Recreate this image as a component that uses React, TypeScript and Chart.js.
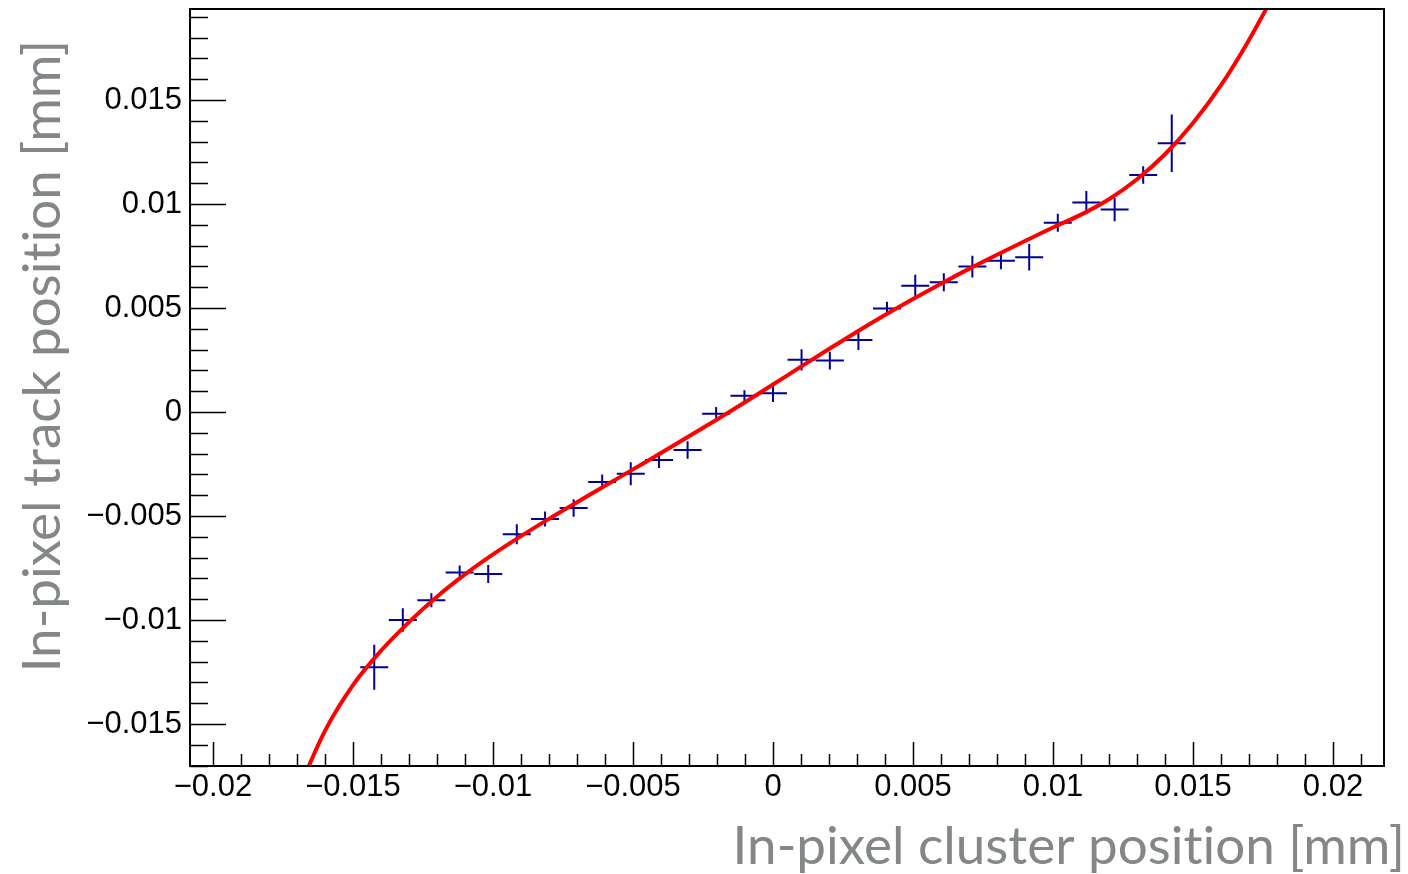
import React, { useEffect, useRef } from "react";
import { Chart, registerables } from "chart.js";

Chart.register(...registerables);

// ---- data ----
const CLUSTER_POS = [
  -0.01424, -0.01322, -0.0122, -0.01119, -0.01017, -0.00915, -0.00814, -0.00712,
  -0.0061, -0.00508, -0.00407, -0.00305, -0.00203, -0.00102, 0.0, 0.00102,
  0.00203, 0.00305, 0.00407, 0.00508, 0.0061, 0.00712, 0.00814, 0.00915,
  0.01017, 0.01119, 0.0122, 0.01322, 0.01424,
];
const TRACK_POS = [
  -0.01227, -0.0100, -0.00905, -0.00772, -0.00779, -0.00588, -0.00514, -0.00462,
  -0.00336, -0.00297, -0.00231, -0.00183, -0.00008, 0.00078, 0.0009, 0.00251,
  0.00247, 0.00346, 0.00498, 0.00607, 0.00624, 0.00699, 0.00727, 0.00744,
  0.0091, 0.01007, 0.00973, 0.01139, 0.01292,
];
const TRACK_ERR = [
  0.00108, 0.00056, 0.00034, 0.00034, 0.00043, 0.00048, 0.00036, 0.00042,
  0.00035, 0.00055, 0.00038, 0.00042, 0.00032, 0.00026, 0.00042, 0.00051,
  0.00043, 0.00048, 0.00032, 0.00053, 0.00043, 0.00052, 0.00041, 0.00064,
  0.00043, 0.00056, 0.00056, 0.00042, 0.00138,
];
const CLUSTER_HALF_WIDTH = 0.0005;

// fitted curve
const FIT_X = [
  -0.017, -0.016, -0.015, -0.014, -0.013, -0.012, -0.011, -0.01, -0.009, -0.008,
  -0.007, -0.006, -0.005, -0.004, -0.003, -0.002, -0.001, 0.0, 0.001, 0.002,
  0.003, 0.004, 0.005, 0.006, 0.007, 0.008, 0.009, 0.01, 0.011, 0.012,
  0.013, 0.014, 0.015, 0.016, 0.017, 0.018,
];
const FIT_Y = [
  -0.01833, -0.01533, -0.01313, -0.01148, -0.0101, -0.00888, -0.00781, -0.00685, -0.00597, -0.00514,
  -0.00434, -0.00355, -0.00276, -0.00197, -0.00117, -0.00036, 0.00047, 0.00132, 0.00218, 0.00303,
  0.00386, 0.00466, 0.00543, 0.00617, 0.00688, 0.00756, 0.00822, 0.00887, 0.00949, 0.01023,
  0.01119, 0.01239, 0.01389, 0.01571, 0.01789, 0.02034,
];

const X_TICKS = [-0.02, -0.015, -0.01, -0.005, 0, 0.005, 0.01, 0.015, 0.02];
const X_TICK_LABELS = ["\u22120.02", "\u22120.015", "\u22120.01", "\u22120.005", "0", "0.005", "0.01", "0.015", "0.02"];
const Y_TICKS = [-0.015, -0.01, -0.005, 0, 0.005, 0.01, 0.015];
const Y_TICK_LABELS = ["\u22120.015", "\u22120.01", "\u22120.005", "0", "0.005", "0.01", "0.015"];
const X_MIN = -0.02082;
const X_MAX = 0.02182;
const Y_MIN = -0.01702;
const Y_MAX = 0.019375;
const MINOR_STEP = 0.001;

const X_TITLE = "In-pixel cluster position [mm]";
const Y_TITLE = "In-pixel track position [mm]";

const POINT_COLOR = "#000092";
const FIT_COLOR = "#ff0000";
const TITLE_COLOR = "#838787";
const TICK_FONT = "'Liberation Sans', Arial, Helvetica, sans-serif";
const TITLE_FONT = "Lato, 'Open Sans', sans-serif";

const rootStylePlugin = {
  id: "rootStyle",
  beforeDatasetsDraw(chart: any) {
    const { ctx, chartArea, scales } = chart;
    const xs = scales.x;
    const ys = scales.y;
    ctx.save();
    ctx.beginPath();
    ctx.rect(chartArea.left, chartArea.top, chartArea.right - chartArea.left, chartArea.bottom - chartArea.top);
    ctx.clip();
    ctx.strokeStyle = POINT_COLOR;
    ctx.lineWidth = 2;
    ctx.lineCap = "butt";
    for (let i = 0; i < CLUSTER_POS.length; i++) {
      const cx = xs.getPixelForValue(CLUSTER_POS[i]);
      const cy = ys.getPixelForValue(TRACK_POS[i]);
      const x1 = xs.getPixelForValue(CLUSTER_POS[i] - CLUSTER_HALF_WIDTH);
      const x2 = xs.getPixelForValue(CLUSTER_POS[i] + CLUSTER_HALF_WIDTH);
      const y1 = ys.getPixelForValue(TRACK_POS[i] - TRACK_ERR[i]);
      const y2 = ys.getPixelForValue(TRACK_POS[i] + TRACK_ERR[i]);
      ctx.beginPath();
      ctx.moveTo(x1, cy);
      ctx.lineTo(x2, cy);
      ctx.moveTo(cx, y1);
      ctx.lineTo(cx, y2);
      ctx.stroke();
    }
    ctx.restore();
  },
  afterDraw(chart: any) {
    const { ctx, chartArea, scales } = chart;
    const xs = scales.x;
    const ys = scales.y;
    const { left, right, top, bottom } = chartArea;
    ctx.save();
    // ticks
    ctx.strokeStyle = "#000";
    ctx.lineWidth = 1.5;
    ctx.beginPath();
    const kx0 = Math.ceil(X_MIN / MINOR_STEP - 1e-6);
    const kx1 = Math.floor(X_MAX / MINOR_STEP + 1e-6);
    for (let k = kx0; k <= kx1; k++) {
      const px = Math.round(xs.getPixelForValue(k * MINOR_STEP)) + 0.5;
      const len = k % 5 === 0 ? 24 : 12;
      ctx.moveTo(px, bottom);
      ctx.lineTo(px, bottom - len);
    }
    const ky0 = Math.ceil(Y_MIN / MINOR_STEP - 1e-6);
    const ky1 = Math.floor(Y_MAX / MINOR_STEP + 1e-6);
    for (let k = ky0; k <= ky1; k++) {
      const py = Math.round(ys.getPixelForValue(k * MINOR_STEP)) + 0.5;
      const len = k % 5 === 0 ? 36 : 18;
      ctx.moveTo(left, py);
      ctx.lineTo(left + len, py);
    }
    ctx.stroke();
    // frame
    ctx.lineWidth = 2;
    ctx.strokeRect(left, top, right - left, bottom - top);
    // axis titles
    ctx.fillStyle = TITLE_COLOR;
    ctx.font = `53px ${TITLE_FONT}`;
    try {
      (ctx as any).textRendering = "optimizeSpeed";
    } catch (e) {
      /* ignore */
    }
    ctx.textBaseline = "alphabetic";
    ctx.textAlign = "right";
    ctx.fillText(X_TITLE, 1405, 864);
    ctx.translate(60, 40);
    ctx.rotate(-Math.PI / 2);
    ctx.textAlign = "right";
    ctx.fillText(Y_TITLE, 0, 0);
    ctx.restore();
  },
};

export default function App() {
  const canvasRef = useRef<HTMLCanvasElement | null>(null);

  useEffect(() => {
    if (!canvasRef.current) return;
    const chart = new Chart(canvasRef.current, {
      type: "scatter",
      data: {
        datasets: [
          {
            label: "data",
            data: CLUSTER_POS.map((x, i) => ({ x, y: TRACK_POS[i] })),
            pointRadius: 0,
            pointHoverRadius: 0,
            showLine: false,
            backgroundColor: POINT_COLOR,
            borderColor: POINT_COLOR,
          },
          {
            label: "fit",
            data: FIT_X.map((x, i) => ({ x, y: FIT_Y[i] })),
            showLine: true,
            borderColor: FIT_COLOR,
            borderWidth: 4,
            pointRadius: 0,
            pointHoverRadius: 0,
            cubicInterpolationMode: "monotone",
            clip: 0,
          } as any,
        ],
      },
      options: {
        animation: false,
        responsive: false,
        devicePixelRatio: 1,
        layout: { padding: { left: 0, top: 9, right: 24, bottom: 0 } },
        plugins: { legend: { display: false }, tooltip: { enabled: false }, title: { display: false } },
        events: [],
        scales: {
          x: {
            type: "linear",
            min: X_MIN,
            max: X_MAX,
            grid: { display: false, drawTicks: false, tickLength: 0 },
            border: { display: false },
            afterBuildTicks: (s: any) => {
              s.ticks = X_TICKS.map((v) => ({ value: v }));
            },
            afterFit: (s: any) => {
              s.height = 108;
              s.paddingLeft = 0;
              s.paddingRight = 0;
              s.paddingTop = 0;
              s.paddingBottom = 0;
            },
            ticks: {
              autoSkip: false,
              maxRotation: 0,
              minRotation: 0,
              padding: 3,
              color: "#000",
              font: { family: TICK_FONT, size: 31 },
              callback: (_v: any, i: number) => X_TICK_LABELS[i],
            },
          },
          y: {
            type: "linear",
            min: Y_MIN,
            max: Y_MAX,
            grid: { display: false, drawTicks: false, tickLength: 0 },
            border: { display: false },
            afterBuildTicks: (s: any) => {
              s.ticks = Y_TICKS.map((v) => ({ value: v }));
            },
            afterFit: (s: any) => {
              s.width = 190;
              s.paddingLeft = 0;
              s.paddingRight = 0;
              s.paddingTop = 0;
              s.paddingBottom = 0;
            },
            ticks: {
              autoSkip: false,
              padding: 8,
              color: "#000",
              font: { family: TICK_FONT, size: 31 },
              callback: (_v: any, i: number) => Y_TICK_LABELS[i],
            },
          },
        },
      } as any,
      plugins: [rootStylePlugin],
    });
    return () => chart.destroy();
  }, []);

  return (
    <div style={{ position: "absolute", left: 0, top: 0, width: 1408, height: 874, background: "#fff" }}>
      <canvas ref={canvasRef} width={1408} height={874} style={{ display: "block" }} />
    </div>
  );
}
